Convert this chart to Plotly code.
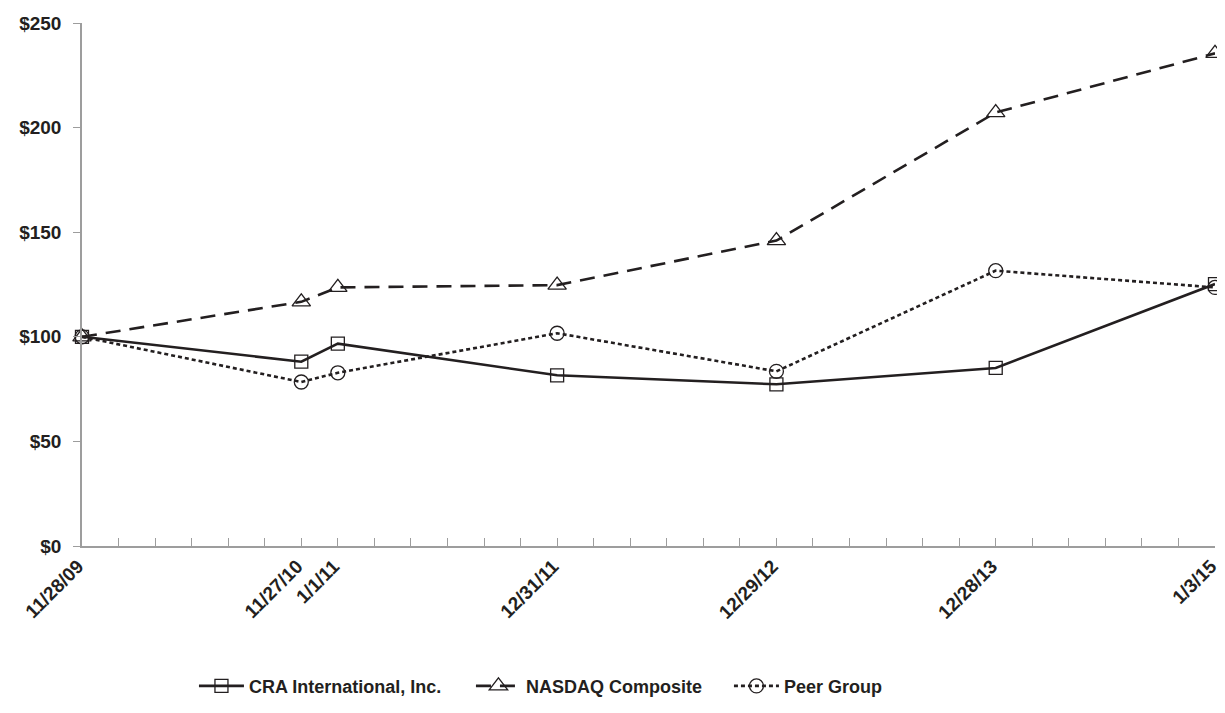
import plotly.graph_objects as go

# ---- data ----
date_labels = ["11/28/09", "11/27/10", "1/1/11", "12/31/11", "12/29/12", "12/28/13", "1/3/15"]
period_index = [0, 6, 7, 13, 19, 25, 31]   # position on the bi-monthly grid of the x axis
cra = [100, 88.1, 96.7, 81.6, 77.3, 85.1, 125.2]
nasdaq = [100, 116.7, 123.6, 124.7, 146.0, 207.2, 235.5]
peer = [100, 78.4, 82.8, 101.7, 83.5, 131.6, 123.6]
y_ticks = [0, 50, 100, 150, 200, 250]

INK = "#231f20"
AXIS = "#9d9d9d"
FONT = "Liberation Sans, Arial, sans-serif"

fig = go.Figure()
series = [
    ("CRA International, Inc.", cra, "solid", "square-open", 13, "legend"),
    ("NASDAQ Composite", nasdaq, "15px,9px", "triangle-up-open", 16, "legend2"),
    ("Peer Group", peer, "4px,3px", "circle-open", 14, "legend3"),
]
for name, vals, dash, sym, size, leg in series:
    fig.add_trace(go.Scatter(
        x=period_index, y=vals, name=name, mode="lines+markers",
        line=dict(color=INK, width=2.6, dash=dash),
        marker=dict(symbol=sym, size=size, color=INK, line=dict(color=INK, width=1.3)),
        cliponaxis=False, legend=leg,
    ))

def legend_box(xpos):
    return dict(orientation="h", xref="container", yref="container",
                x=xpos, xanchor="left", y=0.038, yanchor="middle",
                font=dict(family=FONT, size=18, color=INK, weight="bold"),
                itemwidth=45, bgcolor="rgba(0,0,0,0)")

# the page body adds an 8px margin, so the figure is sized to fill the 1225x713 window
fig.update_layout(
    width=1217, height=705,
    margin=dict(l=74, r=10, t=15, b=167, autoexpand=False),
    paper_bgcolor="white", plot_bgcolor="white",
    font=dict(family=FONT, size=19, color=INK),
    showlegend=True,
    legend=legend_box(0.1528),
    legend2=legend_box(0.3804),
    legend3=legend_box(0.5924),
    xaxis=dict(
        range=[0, 31], showgrid=False, zeroline=False, automargin=False,
        showline=True, linecolor=AXIS, linewidth=1.5,
        tickmode="array", tickvals=period_index, ticktext=date_labels,
        ticks="inside", ticklen=8, tickcolor=AXIS, tickwidth=1,
        tickangle=-45, ticklabelshift=-4,
        tickfont=dict(family=FONT, size=19, color=INK, weight="bold"),
        minor=dict(tickmode="linear", tick0=0, dtick=1, ticks="inside",
                   ticklen=8, tickcolor=AXIS, tickwidth=1, showgrid=False),
    ),
    yaxis=dict(
        range=[0, 250], showgrid=False, zeroline=False, automargin=False,
        showline=True, linecolor=AXIS, linewidth=1.5,
        tickmode="array", tickvals=y_ticks, ticktext=["$" + str(v) for v in y_ticks],
        ticks="outside", ticklen=7, tickcolor=AXIS, tickwidth=1,
        ticklabelstandoff=8,
        tickfont=dict(family=FONT, size=19, color=INK, weight="bold"),
    ),
)

fig.write_html("out.html")
